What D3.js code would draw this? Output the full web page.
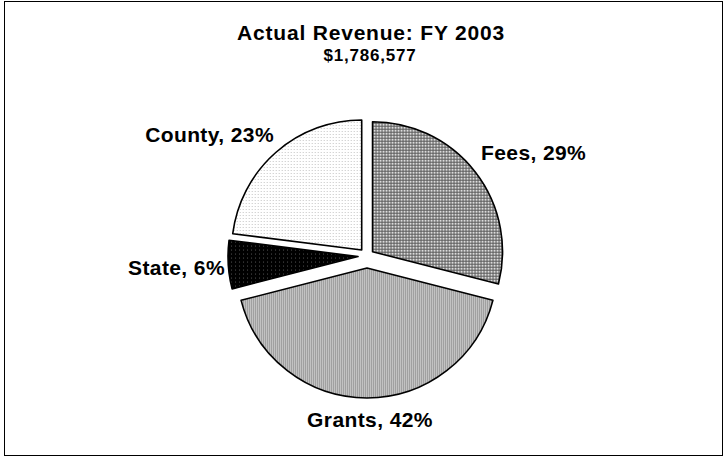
<!DOCTYPE html>
<html><head><meta charset="utf-8">
<script src="https://cdn.jsdelivr.net/npm/d3@7"></script>
<style>body{margin:0;background:#fff}svg{display:block}text{font-family:"Liberation Sans",Arial,sans-serif;font-weight:bold;fill:#000}</style>
</head><body>
<script>
const categories = ["Fees", "Grants", "State", "County"];
const percents = [29, 42, 6, 23];
const titleText = "Actual Revenue: FY 2003";
const subtitleText = "$1,786,577";

const W = 727, H = 462;
const svg = d3.select("body").append("svg").attr("width", W).attr("height", H);
const defs = svg.append("defs");

function pat(id, w, h, bg, draw) {
  const p = defs.append("pattern").attr("id", id).attr("patternUnits", "userSpaceOnUse")
    .attr("width", w).attr("height", h);
  p.append("rect").attr("width", w).attr("height", h).attr("fill", bg);
  draw(p);
}
pat("pFees", 3, 3, "#dcdcdc", p => {
  p.append("rect").attr("x", 0).attr("y", 0).attr("width", 3).attr("height", 1).attr("fill", "#5a5a5a");
  p.append("rect").attr("x", 0).attr("y", 0).attr("width", 1).attr("height", 3).attr("fill", "#5a5a5a");
});
pat("pGrants", 2, 2, "#c2c2c2", p => {
  p.append("rect").attr("x", 0).attr("y", 0).attr("width", 1).attr("height", 2).attr("fill", "#a0a0a0");
});
pat("pState", 4, 4, "#000", p => {
  p.append("rect").attr("x", 1).attr("y", 1).attr("width", 1).attr("height", 1).attr("fill", "#555");
});
pat("pCounty", 3, 3, "#fff", p => {
  p.append("rect").attr("x", 1).attr("y", 1).attr("width", 1).attr("height", 1).attr("fill", "#c4c4c4");
});
const fills = ["url(#pFees)", "url(#pGrants)", "url(#pState)", "url(#pCounty)"];
const explode = [7, 12, 9, 8];

// frame
svg.append("rect").attr("x", 4.5).attr("y", 1.5).attr("width", 718).attr("height", 454)
  .attr("fill", "none").attr("stroke", "#000").attr("stroke-width", 1);

svg.append("text").attr("x", 371).attr("y", 40).attr("text-anchor", "middle")
  .attr("font-size", 21).attr("letter-spacing", 0.8).text(titleText);
svg.append("text").attr("x", 370).attr("y", 61).attr("text-anchor", "middle")
  .attr("font-size", 17).attr("letter-spacing", 0.8).text(subtitleText);

const cx = 367, cy = 256, R = 130;
const pie = d3.pie().sort(null).value(d => d)(percents);
const arc = d3.arc().innerRadius(0).outerRadius(R);
const g = svg.append("g").attr("transform", `translate(${cx},${cy})`);
g.selectAll("path").data(pie).join("path")
  .attr("transform", (d, i) => {
    const a = (d.startAngle + d.endAngle) / 2;
    return `translate(${explode[i] * Math.sin(a)},${-explode[i] * Math.cos(a)})`;
  })
  .attr("d", arc).attr("fill", (d, i) => fills[i])
  .attr("stroke", "#000").attr("stroke-width", 1.6).attr("stroke-linejoin", "round");

// labels
const labelPos = [
  {x: 481, y: 160, anchor: "start"},
  {x: 370, y: 427, anchor: "middle"},
  {x: 225, y: 275, anchor: "end"},
  {x: 274, y: 142, anchor: "end"}
];
svg.selectAll("text.lbl").data(pie).join("text").attr("class", "lbl")
  .attr("x", (d, i) => labelPos[i].x).attr("y", (d, i) => labelPos[i].y)
  .attr("text-anchor", (d, i) => labelPos[i].anchor)
  .attr("font-size", 21).attr("letter-spacing", 0.4)
  .text((d, i) => `${categories[i]}, ${percents[i]}%`);
</script>
</body></html>
